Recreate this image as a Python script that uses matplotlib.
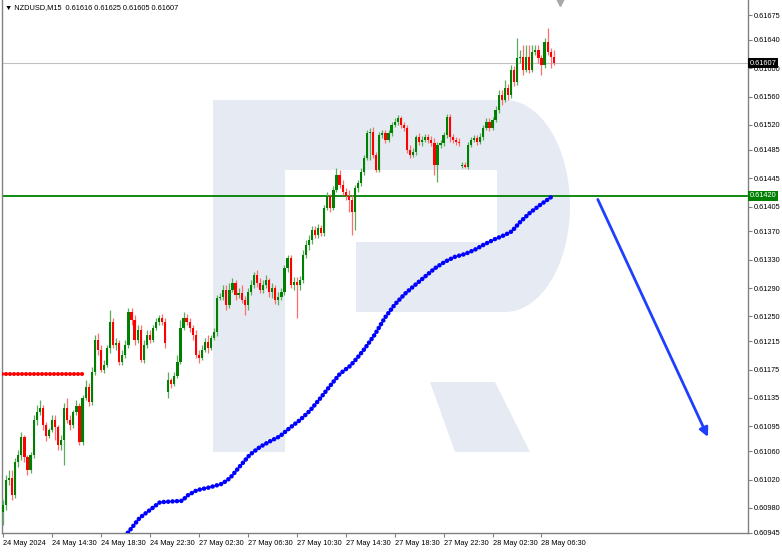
import numpy as np
import matplotlib
matplotlib.use('Agg')
from matplotlib import pyplot as plt
from matplotlib.patches import Polygon, Rectangle

plt.rcParams['font.family'] = ['Liberation Sans', 'DejaVu Sans']

# NZDUSD M15 closes, bar 0 = 24 May 10:30
closes = [
    0.60984, 0.61019, 0.61022, 0.60998, 0.61045, 0.61055, 0.61080, 0.61052, 0.61033, 0.61055,
    0.61104, 0.61115, 0.61121, 0.61097, 0.61081, 0.61090, 0.61104, 0.61094, 0.61069, 0.61076,
    0.61121, 0.61104, 0.61097, 0.61115, 0.61124, 0.61073, 0.61135, 0.61150, 0.61129, 0.61172,
    0.61217, 0.61203, 0.61174, 0.61182, 0.61205, 0.61242, 0.61210, 0.61213, 0.61186, 0.61196,
    0.61210, 0.61256, 0.61245, 0.61217, 0.61231, 0.61189, 0.61210, 0.61224, 0.61217, 0.61234,
    0.61242, 0.61248, 0.61242, 0.61213, 0.61160, 0.61155, 0.61166, 0.61186, 0.61234, 0.61248,
    0.61242, 0.61234, 0.61224, 0.61196, 0.61191, 0.61203, 0.61214, 0.61205, 0.61220, 0.61228,
    0.61276, 0.61277, 0.61287, 0.61266, 0.61287, 0.61297, 0.61280, 0.61283, 0.61273, 0.61266,
    0.61284, 0.61294, 0.61308, 0.61297, 0.61287, 0.61294, 0.61301, 0.61284, 0.61290, 0.61273,
    0.61277, 0.61284, 0.61318, 0.61332, 0.61294, 0.61299, 0.61294, 0.61301, 0.61337, 0.61351,
    0.61358, 0.61372, 0.61365, 0.61375, 0.61368, 0.61403, 0.61420, 0.61403, 0.61428, 0.61449,
    0.61435, 0.61425, 0.61420, 0.61414, 0.61397, 0.61431, 0.61438, 0.61454, 0.61473, 0.61509,
    0.61510, 0.61478, 0.61456, 0.61506, 0.61509, 0.61499, 0.61509, 0.61520, 0.61524, 0.61530,
    0.61520, 0.61516, 0.61485, 0.61478, 0.61482, 0.61503, 0.61496, 0.61499, 0.61503, 0.61499,
    0.61495, 0.61464, 0.61492, 0.61495, 0.61506, 0.61531, 0.61503, 0.61499, 0.61496, 0.61495,
    0.61464, 0.61461, 0.61492, 0.61499, 0.61502, 0.61496, 0.61503, 0.61516, 0.61524, 0.61516,
    0.61527, 0.61541, 0.61562, 0.61555, 0.61572, 0.61562, 0.61597, 0.61581, 0.61614, 0.61616,
    0.61597, 0.61616, 0.61597, 0.61623, 0.61626, 0.61614, 0.61604, 0.61637, 0.61623, 0.61616,
    0.61607,
]
# opens follow previous close except where price gapped
gap_opens = {0: 0.60974, 54: 0.61143, 150: 0.61462}

# wick lengths in points (1e-5) above / below the body
wick_up = [
    7, 7, 11, 11, 6, 7, 7, 3, 3, 4,
    7, 10, 11, 4, 4, 3, 7, 7, 3, 7,
    7, 14, 7, 3, 8, 4, 4, 10, 6, 6,
    7, 10, 7, 7, 4, 17, 6, 7, 4, 7,
    7, 6, 6, 7, 7, 7, 7, 7, 7, 4,
    6, 4, 6, 6, 11, 3, 6, 10, 11, 8,
    6, 6, 4, 7, 7, 7, 6, 10, 4, 6,
    4, 6, 7, 7, 10, 7, 4, 7, 11, 6,
    6, 7, 4, 7, 7, 7, 7, 3, 7, 4,
    7, 6, 4, 4, 4, 6, 6, 6, 7, 7,
    7, 6, 6, 6, 4, 4, 6, 3, 6, 10,
    7, 7, 6, 8, 7, 4, 4, 6, 4, 4,
    6, 7, 4, 4, 4, 4, 4, 4, 6, 4,
    3, 4, 4, 7, 6, 3, 6, 6, 4, 4,
    6, 7, 4, 4, 4, 4, 4, 4, 4, 6,
    4, 4, 4, 4, 4, 4, 6, 4, 6, 6,
    4, 6, 7, 7, 11, 6, 7, 6, 28, 10,
    17, 17, 17, 10, 7, 7, 4, 6, 20, 6,
    9,
]
wick_dn = [
    18, 7, 7, 7, 4, 8, 7, 7, 7, 4,
    4, 7, 4, 7, 6, 3, 3, 18, 7, 7,
    35, 4, 7, 4, 4, 4, 4, 3, 6, 4,
    4, 7, 3, 4, 4, 6, 4, 7, 4, 4,
    4, 4, 7, 7, 4, 3, 4, 4, 4, 3,
    3, 4, 4, 7, 8, 6, 3, 3, 3, 3,
    4, 6, 7, 4, 6, 3, 3, 6, 3, 3,
    6, 3, 4, 7, 4, 3, 7, 4, 4, 14,
    7, 4, 4, 6, 4, 4, 4, 6, 8, 6,
    7, 4, 4, 6, 4, 7, 46, 7, 4, 4,
    7, 6, 4, 4, 4, 4, 3, 6, 3, 3,
    4, 4, 6, 17, 32, 25, 6, 4, 4, 3,
    38, 4, 3, 3, 4, 4, 3, 4, 3, 4,
    4, 4, 4, 4, 3, 4, 4, 6, 3, 4,
    4, 14, 24, 4, 4, 4, 7, 4, 4, 4,
    3, 1, 3, 3, 3, 4, 3, 4, 3, 4,
    3, 3, 4, 7, 3, 7, 4, 6, 4, 6,
    6, 3, 4, 3, 4, 6, 14, 4, 4, 15,
    2,
]

# blue dotted projection line (bar index, price)
fc_bars = [40.8, 44.7, 51.3, 58.5, 60.5, 63.4, 67.6, 71.6, 74.2, 77.5, 80.7, 84, 87.3,
           90.5, 93.8, 97.1, 100.3, 103.6, 106.9, 110.1, 113.4, 115.7, 118.3, 121.6,
           124.8, 128.1, 131.4, 134.6, 137.9, 141.2, 144.4, 147.7, 151, 154.2, 157.5,
           160.8, 164.1, 166.3, 169, 172.2, 175.5, 178.1, 180]
fc_prices = [0.60945, 0.60966, 0.60988, 0.60990, 0.60998, 0.61005, 0.61009, 0.61014,
             0.61022, 0.61039, 0.61055, 0.61066, 0.61074, 0.61081, 0.61093, 0.61104,
             0.61117, 0.61134, 0.61152, 0.61169, 0.61180, 0.61191, 0.61205, 0.61225,
             0.61248, 0.61267, 0.61282, 0.61294, 0.61306, 0.61318, 0.61327, 0.61334,
             0.61338, 0.61344, 0.61352, 0.61359, 0.61365, 0.61370, 0.61383, 0.61396,
             0.61407, 0.61415, 0.61421]

arrow_start = (194.4, 0.61415)
arrow_end = (230.4, 0.61080)
red_level = 0.61169
red_level_end = 26
support = 0.61420
last_price = 0.61607

ytick_vals = [0.61675, 0.61640, 0.61600, 0.61560, 0.61520, 0.61485, 0.61445, 0.61405,
              0.61370, 0.61330, 0.61290, 0.61250, 0.61215, 0.61175, 0.61135, 0.61095,
              0.61060, 0.61020, 0.60980, 0.60945]
xtick_bars = [0, 16, 32, 48, 64, 80, 96, 112, 128, 144, 160, 176]
xtick_labels = ['24 May 2024', '24 May 14:30', '24 May 18:30', '24 May 22:30',
                '27 May 02:30', '27 May 06:30', '27 May 10:30', '27 May 14:30',
                '27 May 18:30', '27 May 22:30', '28 May 02:30', '28 May 06:30']
header = '\u25bc NZDUSD,M15  0.61616 0.61625 0.61605 0.61607'

closes = np.array(closes)
opens = np.concatenate([[closes[0]], closes[:-1]])
for k, v in gap_opens.items():
    opens[k] = v
highs = np.maximum(opens, closes) + np.array(wick_up) * 1e-5
lows = np.minimum(opens, closes) - np.array(wick_dn) * 1e-5
idx = np.arange(len(closes))
up = closes >= opens

W, H = 782, 553
fs = 5.3
fig = plt.figure(figsize=(W / 100, H / 100), dpi=100)

# watermark logo behind the chart
bg = fig.add_axes([0, 0, 1, 1], zorder=0)
bg.set_xlim(0, W)
bg.set_ylim(H, 0)
bg.axis('off')
logo = '#e6ebf3'
bg.add_patch(Rectangle((213, 100), 72, 352, fc=logo, ec='none'))
t = np.linspace(-np.pi / 2, np.pi / 2, 60)
arc = list(zip(505 + 65 * np.cos(t), 206 + 106 * np.sin(t)))
bowl = [(285, 100)] + arc + [(356, 312), (356, 242), (497, 242), (497, 170), (285, 170)]
bg.add_patch(Polygon(bowl, closed=True, fc=logo, ec='none'))
bg.add_patch(Polygon([(430, 382), (495, 382), (530, 452), (455, 452)], closed=True, fc=logo, ec='none'))

ax = fig.add_axes([2 / W, (H - 533) / H, 746 / W, 533 / H], zorder=1)
ax.patch.set_alpha(0)
ax.set_xlim(-0.33, 243.5)
ax.set_ylim(0.609446, 0.616962)

ax.axhline(last_price, color='#c0c0c0', lw=0.8, zorder=1)
ax.axhline(support, color='#008000', lw=1.3, zorder=2)

# candles
ax.vlines(idx[up], lows[up], highs[up], color='#5aad5a', lw=0.9, zorder=3)
ax.vlines(idx[~up], lows[~up], highs[~up], color='#ff6e6e', lw=0.9, zorder=3)
hgt = np.maximum(np.abs(closes - opens), 0.000012)
ax.bar(idx[up], hgt[up], bottom=np.minimum(opens, closes)[up], width=0.72, color='#008000', lw=0, zorder=4)
ax.bar(idx[~up], hgt[~up], bottom=np.minimum(opens, closes)[~up], width=0.72, color='#ff0000', lw=0, zorder=4)

# red level and blue projection
ax.plot([-0.33, red_level_end], [red_level, red_level], color='#ff0000', lw=3.0,
        linestyle=(0, (0.01, 0.95)), dash_capstyle='round', zorder=5)
ax.plot(fc_bars, fc_prices, color='#0000ff', lw=3.3,
        linestyle=(0, (0.01, 0.95)), dash_capstyle='round', zorder=5)
ax.annotate('', xy=arrow_end, xytext=arrow_start,
            arrowprops=dict(arrowstyle='-|>', color='#1f3fff', lw=2, mutation_scale=13,
                            shrinkA=0, shrinkB=0), zorder=6)

ax.plot(182, 0.997, marker='v', color='#a8a8a8', ms=6, transform=ax.get_xaxis_transform(),
        clip_on=False, zorder=6)

for s in ['left', 'bottom', 'right']:
    ax.spines[s].set_color('#808080')
    ax.spines[s].set_linewidth(1)
ax.spines['top'].set_visible(False)

ax.yaxis.tick_right()
ax.set_yticks(ytick_vals)
ax.set_yticklabels(['%.5f' % v for v in ytick_vals])
ax.tick_params(axis='y', length=3, width=0.8, color='#808080', labelsize=fs, pad=1)
ax.set_xticks(xtick_bars)
ax.set_xticklabels(xtick_labels, ha='left')
ax.tick_params(axis='x', length=3, width=0.8, color='#808080', labelsize=fs, pad=2)

for val, fc in [(last_price, 'black'), (support, '#008000')]:
    ax.annotate('%.5f' % val, xy=(1, val), xycoords=('axes fraction', 'data'),
                xytext=(1.2, 0), textcoords='offset points', va='center', ha='left',
                color='white', fontsize=fs, annotation_clip=False, zorder=7,
                bbox=dict(boxstyle='square,pad=0.2', fc=fc, ec='none'))

fig.text(5 / W, 1 - 8 / H, header, fontsize=fs, va='center', ha='left')

fig.savefig('out.png', dpi=100)
